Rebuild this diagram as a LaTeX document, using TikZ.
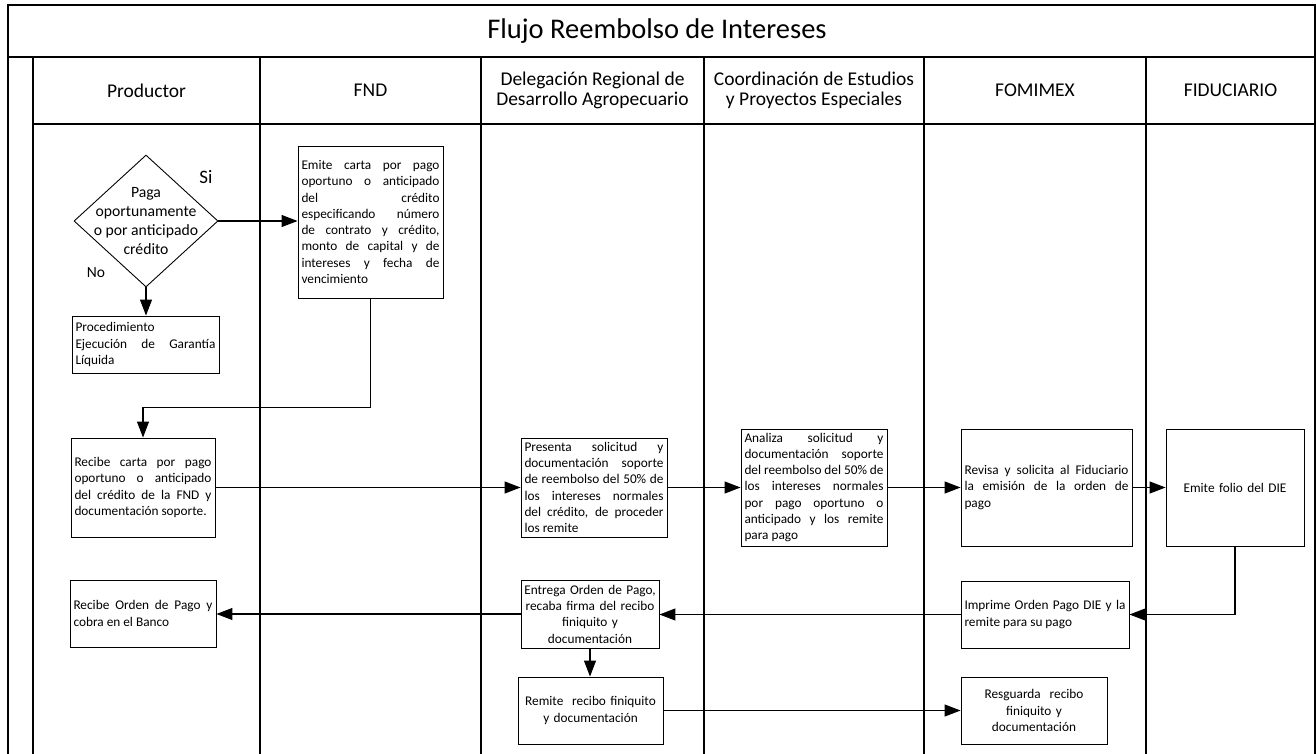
\documentclass[tikz,border=0pt]{standalone}
\usepackage{fontspec}
\setmainfont{Carlito}
\usetikzlibrary{arrows.meta,shapes.geometric,calc}
\newcommand{\fbx}{\fontsize{13.3}{16.3}\selectfont\hyphenpenalty=10000\tolerance=10000}
\begin{document}
\begin{tikzpicture}[x=1pt,y=-1pt,
  frame/.style={line width=1.5pt},
  lane/.style={line width=2pt},
  box/.style={draw, line width=0.9pt, inner xsep=3.5pt, inner ysep=0pt, font=\fbx, align=justify},
  cbox/.style={box, align=center, inner xsep=1pt},
  arr/.style={line width=1.1pt, -{Triangle[length=16pt,width=12pt]}},
  hdr/.style={font=\fontsize{19.5}{20}\selectfont, align=center}
]
\useasboundingbox (0,0) rectangle (1316,754);
% frame
\draw[frame] (8,754) -- (8,5) -- (1315,5) -- (1315,754);
\draw[frame] (8,57) -- (1315,57);
\draw[frame] (33,124) -- (1315,124);
\foreach \x in {33,260,481,704,924,1146} \draw[lane] (\x,57) -- (\x,754);
% title and headers
\node[font=\fontsize{28.5}{30}\selectfont] (title) at (657,31) {Flujo Reembolso de Intereses};
\node[hdr] (h1) at (146.5,90.5) {Productor};
\node[hdr] (h2) at (370.5,90.5) {FND};
\node[hdr] (h3) at (592.5,90.5) {Delegación Regional de\\Desarrollo Agropecuario};
\node[hdr] (h4) at (814,90.5) {Coordinación de Estudios\\y Proyectos Especiales};
\node[hdr] (h5) at (1035,90.5) {FOMIMEX};
\node[hdr] (h6) at (1230.5,90.5) {FIDUCIARIO};
% decision
\node[draw, diamond, line width=0.9pt, minimum width=144pt, minimum height=132pt, inner sep=0pt] (dec) at (146,221) {};
\node[font=\fontsize{15.7}{19}\selectfont, align=center] (dectxt) at (dec.center) {Paga\\oportunamente\\o por anticipado\\crédito};
\node[font=\fontsize{19}{19}\selectfont] (si) at (206,177) {Si};
\node[font=\fontsize{15.5}{16}\selectfont] (no) at (96,273) {No};
% boxes
\node[box, text width=138pt, minimum height=152pt] (emite) at (370.5,222) {Emite carta por pago\linebreak oportuno o anticipado\linebreak del crédito\linebreak especificando número\linebreak de contrato y crédito,\linebreak monto de capital y de\linebreak intereses y fecha de\linebreak vencimiento};
\node[box, text width=140pt, minimum height=57pt] (proc) at (145.5,344.5) {Procedimiento\linebreak Ejecución de Garantía\linebreak Líquida};
\node[box, text width=137pt, minimum height=99pt] (recibe) at (143,487.5) {Recibe carta por pago\linebreak oportuno o anticipado\linebreak del crédito de la FND y\linebreak documentación soporte.};
\node[box, text width=139pt, minimum height=67pt] (recorden) at (143,613.5) {Recibe Orden de Pago y\linebreak cobra en el Banco};
\node[box, text width=139pt, minimum height=99pt] (presenta) at (594,487.5) {Presenta solicitud y\linebreak documentación soporte\linebreak de reembolso del 50\% de\linebreak los intereses normales\linebreak del crédito, de proceder\linebreak los remite};
\node[box, text width=139pt, minimum height=117pt] (analiza) at (814,487.5) {Analiza solicitud y\linebreak documentación soporte\linebreak del reembolso del 50\% de\linebreak los intereses normales\linebreak por pago oportuno o\linebreak anticipado y los remite\linebreak para pago};
\node[box, text width=164pt, minimum height=117pt] (revisa) at (1046.5,487.5) {Revisa y solicita al Fiduciario\linebreak la emisión de la orden de\linebreak pago};
\node[cbox, text width=136pt, minimum height=117pt] (folio) at (1235,487.5) {Emite folio del DIE};
\node[box, text width=161pt, minimum height=67pt] (imprime) at (1045,614.5) {Imprime Orden Pago DIE y la\linebreak remite para su pago};
\node[cbox, text width=136pt, minimum height=68pt] (entrega) at (590,614) {Entrega Orden de Pago,\\recaba firma del recibo\\finiquito y\\documentación};
\node[cbox, text width=143pt, minimum height=67pt] (remite) at (590.5,710.5) {Remite~ recibo finiquito\\y documentación};
\node[cbox, text width=144pt, minimum height=67pt] (resguarda) at (1034,710.5) {Resguarda~ recibo\\finiquito y\\documentación};
% connectors
\draw[arr] (dec.east) -- (dec.east -| emite.west);
\draw[arr] (dec.south) -- (dec.south |- proc.north);
\draw[arr] (emite.south) |- ($(recibe.north)+(0,-30)$) -| (recibe.north);
\draw[arr] (recibe.east) -- (recibe.east -| presenta.west);
\draw[arr] (presenta.east) -- (presenta.east -| analiza.west);
\draw[arr] (analiza.east) -- (analiza.east -| revisa.west);
\draw[arr] (revisa.east) -- (revisa.east -| folio.west);
\draw[arr] (folio.south) |- (imprime.east);
\draw[arr] (imprime.west) -- (imprime.west -| entrega.east);
\draw[arr] (entrega.west) -- (entrega.west -| recorden.east);
\draw[arr] (entrega.south) -- (entrega.south |- remite.north);
\draw[arr] (remite.east) -- (remite.east -| resguarda.west);
\end{tikzpicture}
\end{document}
